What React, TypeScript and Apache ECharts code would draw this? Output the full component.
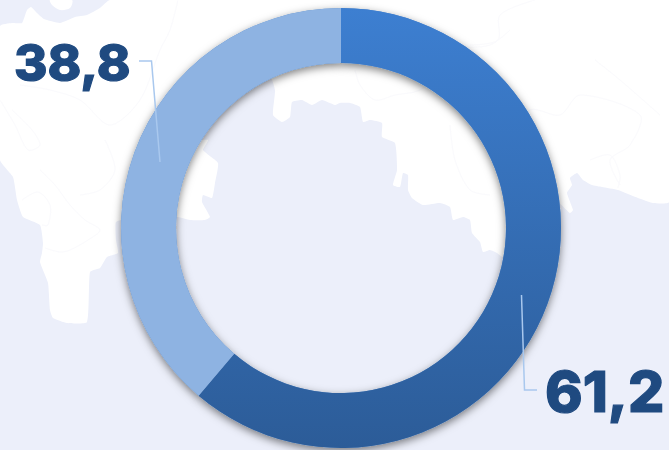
import React, { useEffect, useRef } from "react";
import * as echarts from "echarts";

const categories = ["A", "B"];
const values = [61.2, 38.8];
const fontSizes = [57, 51];
const fills = [
  new echarts.graphic.LinearGradient(0, 0, 0, 1, [
    { offset: 0, color: "#3D7FD1" },
    { offset: 1, color: "#2C5C98" },
  ]),
  "#8EB3E2",
];

const LAND: number[][] = [
  [0, 26], [12, 23], [22, 23], [27, 10], [31, 7], [37, 13], [44, 19], [60, 23], [75, 17], [87, 15], [100, 8], [110, 0],
  [669, 0], [669, 202], [653, 203], [638, 198], [618, 190], [602, 187], [592, 185], [583, 180], [577, 173], [570, 178],
  [572, 185], [567, 193], [573, 210], [570, 213], [555, 200], [540, 230], [503, 257], [497, 253], [490, 250], [483, 252],
  [480, 242], [472, 233], [470, 220], [463, 217], [453, 220], [450, 207], [440, 203], [423, 205], [412, 198], [408, 190],
  [408, 175], [403, 173], [400, 187], [393, 185], [397, 170], [395, 143], [382, 137], [382, 123], [370, 120], [363, 122],
  [360, 107], [350, 103], [340, 103], [335, 105], [322, 100], [312, 105], [302, 100], [292, 102], [290, 117], [282, 122],
  [273, 115], [275, 90], [268, 72], [225, 100], [195, 140], [208, 140], [203, 150], [218, 163], [215, 183], [212, 198],
  [203, 195], [202, 202], [210, 217], [205, 220], [190, 220], [178, 217], [130, 218], [116, 222], [116, 240], [118, 253],
  [107, 257], [100, 268], [90, 272], [87, 322], [67, 323], [53, 318], [50, 310], [48, 283], [40, 262], [42, 253],
  [43, 243], [40, 225], [23, 217], [17, 200], [13, 177], [0, 160],
];
const ISLAND: number[][] = [[50, 0], [52, 5], [60, 10], [70, 8], [72, 0]];
const BORDERS: number[][][] = [
  [[178, 0], [170, 30], [160, 50], [140, 100], [110, 125], [80, 100], [50, 90], [20, 85]],
  [[0, 100], [15, 125], [28, 150], [40, 145], [32, 130], [12, 110]],
  [[40, 170], [55, 185], [70, 205], [85, 220], [100, 230], [88, 240], [70, 250], [60, 252], [45, 248]],
  [[22, 200], [38, 192], [50, 205], [48, 225], [42, 225]],
  [[80, 195], [100, 190], [115, 170], [105, 140]],
  [[355, 70], [360, 85], [375, 100], [395, 95], [420, 90], [440, 70], [455, 50], [490, 45], [510, 30]],
  [[495, 145], [530, 110], [560, 115], [580, 95], [640, 115], [630, 145], [610, 160], [620, 185]],
  [[535, 0], [500, 15], [498, 40], [470, 45]],
  [[450, 125], [455, 160], [470, 190], [490, 195]],
  [[595, 60], [620, 80], [660, 115]],
  [[590, 160], [610, 155], [620, 175], [618, 188]],
];

export default function App() {
  const ref = useRef<HTMLDivElement>(null);
  useEffect(() => {
    document.body.style.margin = "0";
    const chart = echarts.init(ref.current!, undefined, { renderer: "svg" });
    const linePoints = [
      [[521.5, 295], [524.5, 390], [537, 390]],
      [[160, 162], [151.5, 61], [139, 61]],
    ];
    const labelPos = [
      { x: 545, y: 391 },
      { x: 14, y: 62 },
    ];
    const ring = {
      type: "pie",
      silent: true,
      center: [341, 228],
      radius: [165, 220],
      startAngle: 90,
      clockwise: true,
      avoidLabelOverlap: false,
    };
    chart.setOption({
      animation: false,
      backgroundColor: "#ECEFFA",
      graphic: {
        elements: [
          { type: "polygon", silent: true, z: 0, shape: { points: LAND, smooth: 0.15 }, style: { fill: "#FFFFFF" } },
          { type: "polygon", silent: true, z: 0, shape: { points: ISLAND, smooth: 0.3 }, style: { fill: "#FFFFFF" } },
          ...BORDERS.map((points) => ({
            type: "polyline",
            silent: true,
            z: 1,
            shape: { points, smooth: 0.3 },
            style: { stroke: "#FAFAFD", lineWidth: 1, fill: "none" },
          })),
        ],
      },
      series: [
        {
          ...ring,
          z: 2,
          label: { show: false },
          labelLine: { show: false },
          itemStyle: {
            color: "#5F8CC4",
            shadowBlur: 9,
            shadowOffsetY: 3,
            shadowColor: "rgba(0,0,0,0.5)",
          },
          data: categories.map((name, i) => ({ name, value: values[i] })),
        },
        {
          ...ring,
          z: 3,
          label: { show: false },
          labelLine: { show: false },
          data: categories.map((name, i) => ({
            name,
            value: values[i],
            itemStyle: { color: fills[i] },
          })),
        },
        {
          ...ring,
          z: 4,
          itemStyle: { color: "rgba(0,0,0,0)" },
          labelLine: { show: true, lineStyle: { color: "#A9C8EE", width: 1.5 } },
          labelLayout: (p: any) => ({
            ...labelPos[p.dataIndex],
            align: "left",
            verticalAlign: "middle",
            labelLinePoints: linePoints[p.dataIndex],
          }),
          data: categories.map((name, i) => ({
            name,
            value: values[i],
            label: {
              show: true,
              position: "outside",
              formatter: values[i].toFixed(1).replace(".", ","),
              fontFamily: "Inter",
              fontWeight: 800,
              fontSize: fontSizes[i],
              color: "#1F4A80",
              textBorderColor: "#1F4A80",
              textBorderWidth: 1.2,
            },
          })),
        },
      ],
    });
    return () => chart.dispose();
  }, []);
  return <div ref={ref} style={{ width: 669, height: 450 }} />;
}
